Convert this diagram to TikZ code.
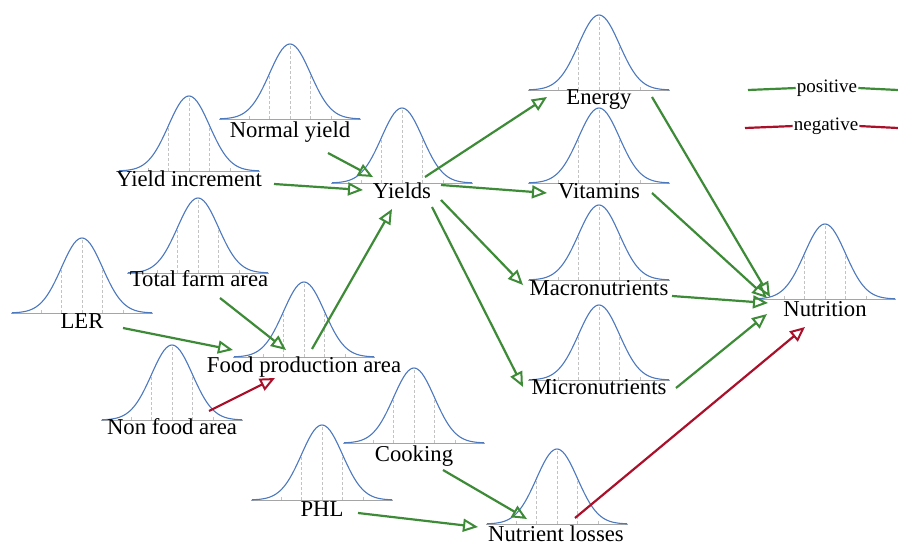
\documentclass[tikz,border=0pt]{standalone}
\usepackage{fontspec}
\setmainfont{Liberation Serif}
\usetikzlibrary{arrows.meta}
\definecolor{posgreen}{RGB}{61,139,55}
\definecolor{negred}{RGB}{170,16,42}
\definecolor{bellblue}{RGB}{76,120,190}
\definecolor{basegray}{RGB}{165,165,165}
\definecolor{dashgray}{RGB}{195,195,195}
\tikzset{
  lbl/.style={inner sep=0pt, anchor=base, font=\fontsize{22.7}{26}\selectfont},
  leg/.style={inner sep=1pt, anchor=mid, font=\fontsize{19}{22}\selectfont},
  posarrow/.style={draw=posgreen, line width=2.2pt, -{Triangle[open,length=15pt,width=13pt,line width=2pt]}},
  negarrow/.style={draw=negred, line width=2.2pt, -{Triangle[open,length=15pt,width=13pt,line width=2pt]}},
  posline/.style={draw=posgreen, line width=2.2pt},
  negline/.style={draw=negred, line width=2.2pt},
  bellline/.style={draw=bellblue, line width=1.1pt},
  baseln/.style={draw=basegray, line width=0.9pt},
  sigmaln/.style={draw=dashgray, dash pattern=on 3pt off 2pt, line width=0.7pt},
}
\newcommand\bellat[2]{%
  \begin{scope}[shift={(#1,#2)}]
    \draw[sigmaln] (0,0) -- (0,-75);
    \draw[sigmaln] (20.5,0) -- (20.5,-45.5);
    \draw[sigmaln] (-20.5,0) -- (-20.5,-45.5);
    \draw[sigmaln] (41,0) -- (41,-3);
    \draw[sigmaln] (-41,0) -- (-41,-3);
    \draw[baseln] (-71,0) -- (71,0);
    \draw[bellline] plot[domain=-70:70, samples=71, smooth] (\x, {-75*exp(-((\x)*(\x))/840)});
  \end{scope}}
\begin{document}
\begin{tikzpicture}[x=1pt,y=-1pt]
\useasboundingbox (0,0) rectangle (898,545);
% bells
\bellat{290}{119}
\bellat{189}{171}
\bellat{402}{183}
\bellat{198}{273}
\bellat{82}{313}
\bellat{304}{357}
\bellat{172}{420}
\bellat{322}{500}
\bellat{414}{443}
\bellat{557}{524}
\bellat{599}{90}
\bellat{599}{183}
\bellat{599}{280}
\bellat{599}{380}
\bellat{825}{299}
% labels
\node[lbl] (ny) at (290,138) {Normal yield};
\node[lbl] (yi) at (189,187) {Yield increment};
\node[lbl] (yl) at (402,199) {Yields};
\node[lbl] (tfa) at (199,287) {Total farm area};
\node[lbl] (ler) at (82,329) {LER};
\node[lbl] (fpa) at (304,373) {Food production area};
\node[lbl] (nfa) at (172,435) {Non food area};
\node[lbl] (phl) at (322,517) {PHL};
\node[lbl] (cook) at (414,462) {Cooking};
\node[lbl] (nl) at (556,541) {Nutrient losses};
\node[lbl] (en) at (599,105) {Energy};
\node[lbl] (vit) at (599,199) {Vitamins};
\node[lbl] (mac) at (599,296) {Macronutrients};
\node[lbl] (mic) at (599,395) {Micronutrients};
\node[lbl] (nut) at (825,317) {Nutrition};
% connectors
\draw[posarrow] ([shift={(38,15)}]ny.base) -- ([shift={(-29,-22)}]yl.base);
\draw[posarrow] ([shift={(85,-3)}]yi.base) -- ([shift={(-39,-9)}]yl.base);
\draw[posarrow] ([shift={(8,-24)}]fpa.base) -- ([shift={(-10,10)}]yl.base);
\draw[posarrow] ([shift={(23,-22)}]yl.base) -- ([shift={(-52,-8)}]en.base);
\draw[posarrow] ([shift={(39,-14)}]yl.base) -- ([shift={(-52,-6)}]vit.base);
\draw[posarrow] ([shift={(39,1)}]yl.base) -- ([shift={(-76,-11)}]mac.base);
\draw[posarrow] ([shift={(30,8)}]yl.base) -- ([shift={(-76,-8)}]mic.base);
\draw[posarrow] ([shift={(53,-8)}]en.base) -- ([shift={(-55,-20)}]nut.base);
\draw[posarrow] ([shift={(53,-6)}]vit.base) -- ([shift={(-58,-19)}]nut.base);
\draw[posarrow] ([shift={(73,0)}]mac.base) -- ([shift={(-57,-14)}]nut.base);
\draw[posarrow] ([shift={(77,-7)}]mic.base) -- ([shift={(-58,-3)}]nut.base);
\draw[posarrow] ([shift={(41,-1)}]ler.base) -- ([shift={(-71,-23)}]fpa.base);
\draw[posarrow] ([shift={(21,11)}]tfa.base) -- ([shift={(-18,-23)}]fpa.base);
\draw[negarrow] ([shift={(37,-24)}]nfa.base) -- ([shift={(-29,5)}]fpa.base);
\draw[posarrow] ([shift={(29,8)}]cook.base) -- ([shift={(-29,-22)}]nl.base);
\draw[posarrow] ([shift={(36,-4)}]phl.base) -- ([shift={(-78,-14)}]nl.base);
\draw[negarrow] ([shift={(19,-23)}]nl.base) -- ([shift={(-20,10)}]nut.base);
% legend
\node[leg] (pos) at (827,90) {positive};
\coordinate (posL) at (748,90);
\coordinate (posR) at (898,90);
\draw[posline] (posL) -- (pos.west);
\draw[posline] (pos.east) -- (posR);
\node[leg] (neg) at (826,128) {negative};
\coordinate (negL) at (745,128);
\coordinate (negR) at (898,128);
\draw[negline] (negL) -- (neg.west);
\draw[negline] (neg.east) -- (negR);
\end{tikzpicture}
\end{document}
